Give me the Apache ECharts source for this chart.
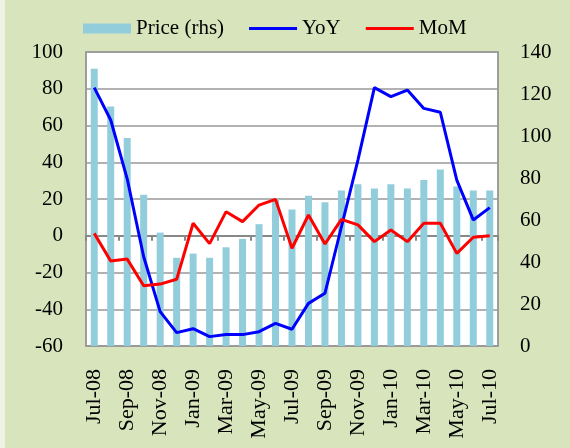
<!DOCTYPE html>
<html>
<head>
<meta charset="utf-8">
<script src="https://cdn.jsdelivr.net/npm/echarts@6/dist/echarts.min.js"></script>
<style>
html,body{margin:0;padding:0;background:#d8e4bc;}
#chart{width:570px;height:448px;}
</style>
</head>
<body>
<div id="chart"></div>
<script>
var months = ['Jul-08','Aug-08','Sep-08','Oct-08','Nov-08','Dec-08','Jan-09','Feb-09','Mar-09','Apr-09','May-09','Jun-09','Jul-09','Aug-09','Sep-09','Oct-09','Nov-09','Dec-09','Jan-10','Feb-10','Mar-10','Apr-10','May-10','Jun-10','Jul-10'];
var price = [132, 114, 99, 72, 54, 42, 44, 42, 47, 51, 58, 70, 65, 71.5, 68.5, 74, 77, 75, 77, 75, 79, 84, 76, 74, 74];
var yoy = [80.6, 63, 31, -11.4, -41.3, -52.7, -50.6, -54.9, -53.8, -53.8, -52.2, -47.7, -50.9, -36.8, -31.3, 4.9, 41.2, 80.6, 75.7, 79.3, 69.3, 67.2, 30.3, 8.6, 15.3];
var mom = [1.3, -13.7, -12.7, -27.2, -26.3, -23.7, 6.8, -4.3, 13.1, 7.7, 16.7, 19.8, -6.8, 11.3, -4.5, 8.9, 5.9, -3.2, 3.1, -3.2, 6.8, 6.8, -9.6, -0.8, 0.0];
var leftTicks = {min: -60, max: 100, interval: 20};
var rightTicks = {min: 0, max: 140, interval: 20};

var FONT = 'Liberation Serif';
var LINE_ICON = 'path://M0,0 M48,10 M0,3.5 L48,3.5 L48,6.5 L0,6.5 Z';
var chart = echarts.init(document.getElementById('chart'), null, {renderer: 'canvas'});
chart.setOption({
  backgroundColor: '#d8e4bc',
  animation: false,
  textStyle: {fontFamily: FONT, color: '#000'},
  graphic: [{type: 'rect', shape: {x: 0, y: 0, width: 5, height: 448}, style: {fill: '#eef2e4'}, silent: true}],
  legend: {
    top: 13, left: 78, itemWidth: 48, itemHeight: 10, itemGap: 25, symbolKeepAspect: false,
    textStyle: {fontFamily: FONT, fontSize: 21, color: '#000'},
    data: [
      {name: 'Price (rhs)', icon: 'rect'},
      {name: 'YoY', icon: LINE_ICON, itemStyle: {color: '#0000ff'}},
      {name: 'MoM', icon: LINE_ICON, itemStyle: {color: '#ff0000'}}
    ]
  },
  grid: {left: 86, top: 52, right: 72, bottom: 102, show: true, backgroundColor: '#fff', borderColor: '#999', borderWidth: 1.5, containLabel: false},
  xAxis: [{
    type: 'category', data: months, position: 'bottom',
    axisLine: {onZero: false, lineStyle: {color: '#999', width: 1.5}},
    axisTick: {show: false},
    axisLabel: {rotate: 90, interval: 1, fontSize: 22, margin: 23, fontFamily: FONT, color: '#000'}
  }, {
    type: 'category', data: months, position: 'bottom',
    axisLine: {onZero: true, onZeroAxisIndex: 0, lineStyle: {color: '#888', width: 2}},
    axisTick: {show: true, interval: 1, length: 5, lineStyle: {color: '#888', width: 2}},
    axisLabel: {show: false}
  }],
  yAxis: [{
    type: 'value', position: 'left', min: leftTicks.min, max: leftTicks.max, interval: leftTicks.interval,
    axisLine: {show: true, lineStyle: {color: '#999', width: 1.5}},
    axisTick: {show: false},
    axisLabel: {fontSize: 21, margin: 23, fontFamily: FONT, color: '#000'},
    splitLine: {show: true, lineStyle: {color: '#999', width: 1.5}}
  }, {
    type: 'value', position: 'right', min: rightTicks.min, max: rightTicks.max, interval: rightTicks.interval,
    axisLine: {show: true, lineStyle: {color: '#999', width: 1.5}},
    axisTick: {show: false},
    axisLabel: {fontSize: 21, margin: 22, fontFamily: FONT, color: '#000'},
    splitLine: {show: false}
  }],
  series: [{
    name: 'Price (rhs)', type: 'bar', yAxisIndex: 1, xAxisIndex: 0, data: price,
    barWidth: 7, itemStyle: {color: '#92cddc'}
  }, {
    name: 'YoY', type: 'line', yAxisIndex: 0, xAxisIndex: 0, data: yoy,
    symbol: 'none', lineStyle: {color: '#0000ff', width: 3}, itemStyle: {color: '#0000ff'}
  }, {
    name: 'MoM', type: 'line', yAxisIndex: 0, xAxisIndex: 0, data: mom,
    symbol: 'none', lineStyle: {color: '#ff0000', width: 3}, itemStyle: {color: '#ff0000'}
  }]
});
</script>
</body>
</html>
